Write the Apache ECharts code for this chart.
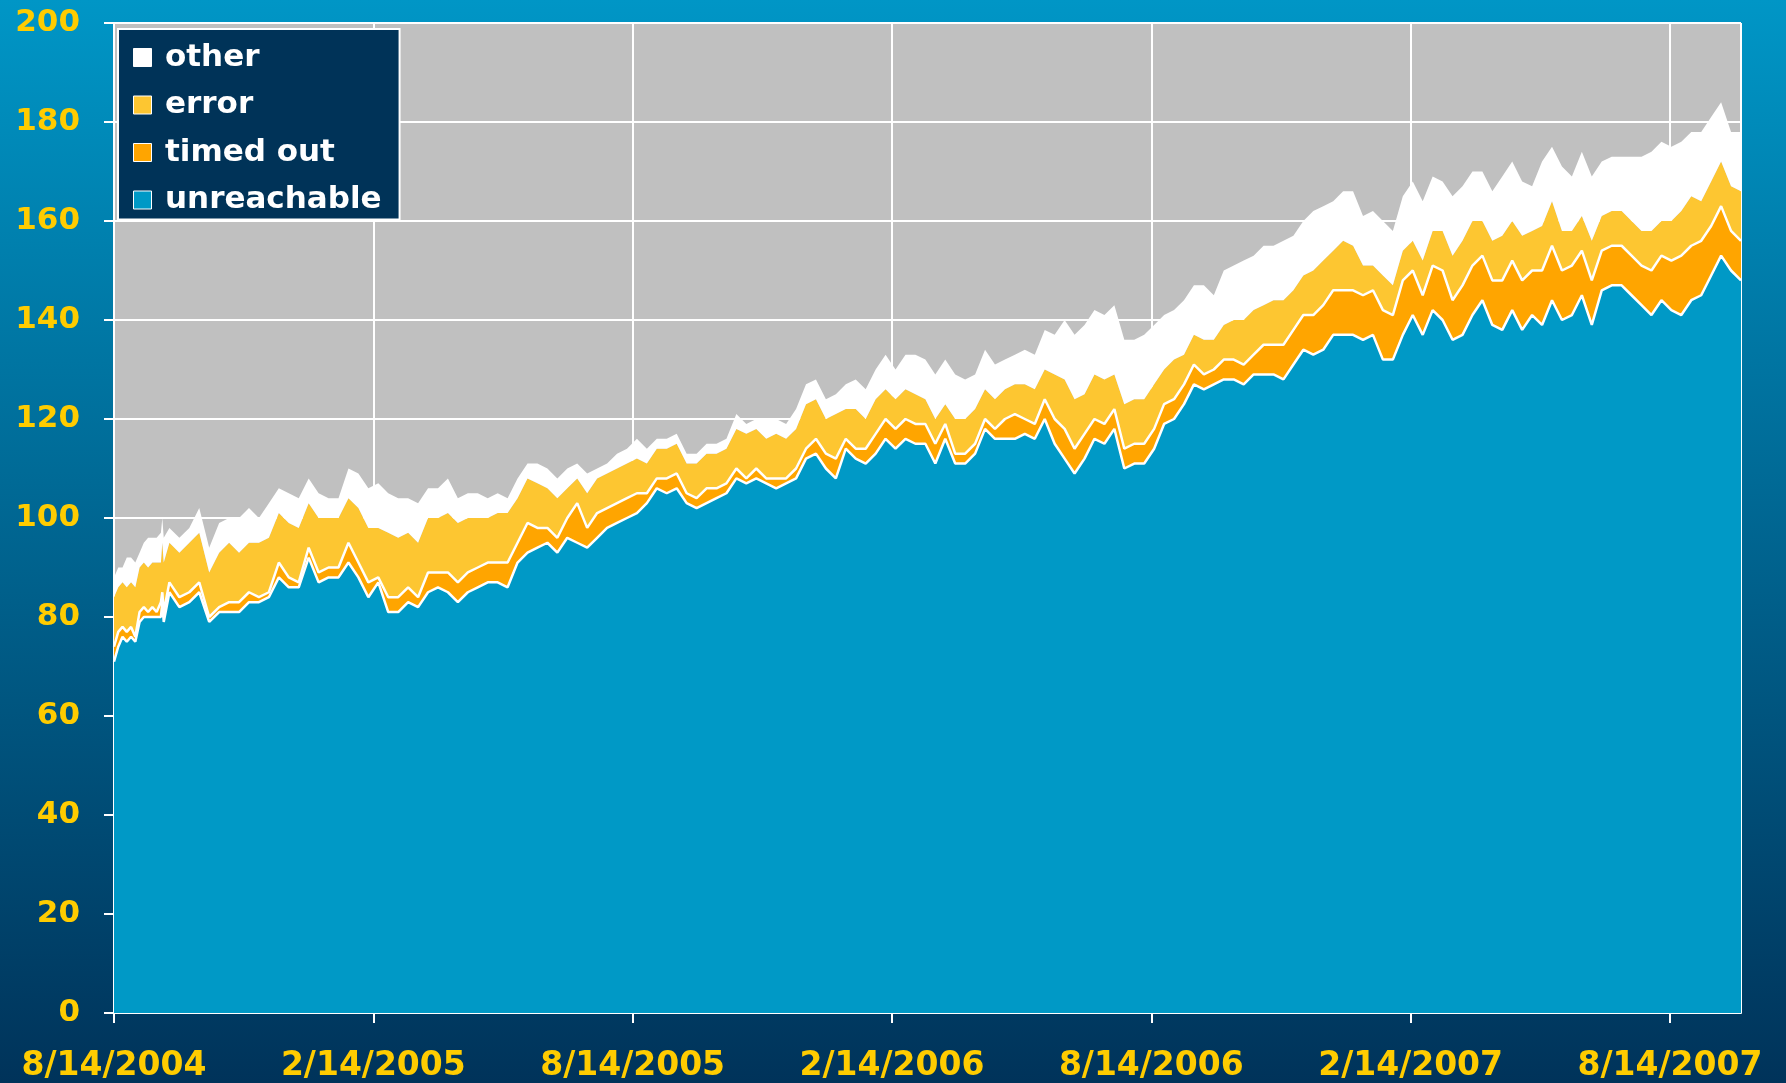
<!DOCTYPE html>
<html>
<head>
<meta charset="utf-8">
<title>unreachable / timed out / error / other</title>
<script src="https://cdn.jsdelivr.net/npm/echarts@6.0.0/dist/echarts.min.js"></script>
<style>
  html, body { margin: 0; padding: 0; background: #00335a; }
  #chart { width: 1786px; height: 1083px; }
</style>
</head>
<body>
<div id="chart"></div>
<script>
// sample dates: a few daily-ish points first, then weekly (wednesdays)
const dates = [
  '2004-08-14', '2004-08-17', '2004-08-20', '2004-08-23', '2004-08-26', '2004-08-29', '2004-09-01',
  '2004-09-04', '2004-09-07', '2004-09-10', '2004-09-13', '2004-09-16', '2004-09-17', '2004-09-18',
  '2004-09-22', '2004-09-29', '2004-10-06', '2004-10-13', '2004-10-20', '2004-10-27', '2004-11-03',
  '2004-11-10', '2004-11-17', '2004-11-24', '2004-12-01', '2004-12-08', '2004-12-15', '2004-12-22', '2004-12-29',
  '2005-01-05', '2005-01-12', '2005-01-19', '2005-01-26', '2005-02-02', '2005-02-09', '2005-02-16', '2005-02-23',
  '2005-03-02', '2005-03-09', '2005-03-16', '2005-03-23', '2005-03-30', '2005-04-06', '2005-04-13', '2005-04-20',
  '2005-04-27', '2005-05-04', '2005-05-11', '2005-05-18', '2005-05-25', '2005-06-01', '2005-06-08', '2005-06-15',
  '2005-06-22', '2005-06-29', '2005-07-06', '2005-07-13', '2005-07-20', '2005-07-27', '2005-08-03', '2005-08-10',
  '2005-08-17', '2005-08-24', '2005-08-31', '2005-09-07', '2005-09-14', '2005-09-21', '2005-09-28', '2005-10-05',
  '2005-10-12', '2005-10-19', '2005-10-26', '2005-11-02', '2005-11-09', '2005-11-16', '2005-11-23', '2005-11-30',
  '2005-12-07', '2005-12-14', '2005-12-21', '2005-12-28',
  '2006-01-04', '2006-01-11', '2006-01-18', '2006-01-25', '2006-02-01', '2006-02-08', '2006-02-15', '2006-02-22',
  '2006-03-01', '2006-03-08', '2006-03-15', '2006-03-22', '2006-03-29', '2006-04-05', '2006-04-12', '2006-04-19',
  '2006-04-26', '2006-05-03', '2006-05-10', '2006-05-17', '2006-05-24', '2006-05-31', '2006-06-07', '2006-06-14',
  '2006-06-21', '2006-06-28', '2006-07-05', '2006-07-12', '2006-07-19', '2006-07-26', '2006-08-02', '2006-08-09',
  '2006-08-16', '2006-08-23', '2006-08-30', '2006-09-06', '2006-09-13', '2006-09-20', '2006-09-27', '2006-10-04',
  '2006-10-11', '2006-10-18', '2006-10-25', '2006-11-01', '2006-11-08', '2006-11-15', '2006-11-22', '2006-11-29',
  '2006-12-06', '2006-12-13', '2006-12-20', '2006-12-27',
  '2007-01-03', '2007-01-10', '2007-01-17', '2007-01-24', '2007-01-31', '2007-02-07', '2007-02-14', '2007-02-21',
  '2007-02-28', '2007-03-07', '2007-03-14', '2007-03-21', '2007-03-28', '2007-04-04', '2007-04-11', '2007-04-18',
  '2007-04-25', '2007-05-02', '2007-05-09', '2007-05-16', '2007-05-23', '2007-05-30', '2007-06-06', '2007-06-13',
  '2007-06-20', '2007-06-27', '2007-07-04', '2007-07-11', '2007-07-18', '2007-07-25', '2007-08-01', '2007-08-08',
  '2007-08-15', '2007-08-22', '2007-08-29', '2007-09-05', '2007-09-12', '2007-09-19', '2007-09-26', '2007-10-03'
];

const unreachable = [
  71, 74, 76, 75, 76, 75, 79, 80, 80, 80, 80, 80, 83, 79,
  85, 82, 83, 85, 79, 81, 81, 81, 83, 83,
  84, 88, 86, 86, 92, 87, 88, 88, 91, 88,
  84, 87, 81, 81, 83, 82, 85, 86, 85, 83,
  85, 86, 87, 87, 86, 91, 93, 94, 95, 93,
  96, 95, 94, 96, 98, 99, 100, 101, 103, 106,
  105, 106, 103, 102, 103, 104, 105, 108, 107, 108,
  107, 106, 107, 108, 112, 113, 110, 108, 114, 112,
  111, 113, 116, 114, 116, 115, 115, 111, 116, 111,
  111, 113, 118, 116, 116, 116, 117, 116, 120, 115,
  112, 109, 112, 116, 115, 118, 110, 111, 111, 114,
  119, 120, 123, 127, 126, 127, 128, 128, 127, 129,
  129, 129, 128, 131, 134, 133, 134, 137, 137, 137,
  136, 137, 132, 132, 137, 141, 137, 142, 140, 136,
  137, 141, 144, 139, 138, 142, 138, 141, 139, 144,
  140, 141, 145, 139, 146, 147, 147, 145, 143, 141,
  144, 142, 141, 144, 145, 149, 153, 150, 148
];

const timedOut = [
  3, 3, 2, 2, 2, 1, 2, 2, 1, 2, 1, 3, 2, 2,
  2, 2, 2, 2, 1, 1, 2, 2, 2, 1,
  1, 3, 2, 1, 2, 2, 2, 2, 4, 3,
  3, 1, 3, 3, 3, 2, 4, 3, 4, 4,
  4, 4, 4, 4, 5, 4, 6, 4, 3, 3,
  4, 8, 4, 5, 4, 4, 4, 4, 2, 2,
  3, 3, 2, 2, 3, 2, 2, 2, 1, 2,
  1, 2, 1, 2, 2, 3, 3, 4, 2, 2,
  3, 4, 4, 4, 4, 4, 4, 4, 3, 2,
  2, 2, 2, 2, 4, 5, 3, 3, 4, 5,
  6, 5, 5, 4, 4, 4, 4, 4, 4, 4,
  4, 4, 4, 4, 3, 3, 4, 4, 4, 4,
  6, 6, 7, 7, 7, 8, 9, 9, 9, 9,
  9, 9, 10, 9, 11, 9, 8, 9, 10, 8,
  10, 10, 9, 9, 10, 10, 10, 9, 11, 11,
  10, 10, 9, 9, 8, 8, 8, 8, 8, 9,
  9, 10, 12, 11, 11, 10, 10, 8, 8
];

const errors = [
  10, 9, 9, 9, 9, 10, 9, 9, 9, 9, 10, 8, 10, 10,
  8, 9, 10, 10, 9, 11, 12, 10, 10, 11,
  11, 10, 11, 11, 9, 11, 10, 10, 9, 11,
  11, 10, 13, 12, 11, 11, 11, 11, 12, 12,
  11, 10, 9, 10, 10, 9, 9, 9, 8, 8,
  6, 5, 7, 7, 7, 7, 7, 7, 6, 6,
  6, 6, 6, 7, 7, 7, 7, 8, 9, 8,
  8, 9, 8, 8, 9, 8, 7, 9, 6, 8,
  6, 7, 6, 6, 6, 6, 5, 5, 4, 7,
  7, 7, 6, 6, 6, 6, 7, 7, 6, 9,
  10, 10, 8, 9, 9, 7, 9, 9, 9, 9,
  7, 8, 6, 6, 7, 6, 7, 8, 9, 9,
  8, 9, 9, 8, 8, 9, 9, 8, 10, 9,
  6, 5, 7, 6, 6, 6, 7, 7, 8, 9,
  9, 9, 7, 8, 9, 8, 9, 8, 9, 9,
  8, 7, 7, 8, 7, 7, 7, 7, 7, 8,
  7, 8, 9, 10, 8, 9, 9, 9, 10
];

const other = [
  4, 4, 3, 6, 5, 5, 3, 4, 6, 5, 5, 6, 5, 5,
  3, 3, 3, 5, 5, 6, 5, 7, 7, 5,
  7, 5, 6, 6, 5, 5, 4, 4, 6, 7,
  8, 9, 8, 8, 7, 8, 6, 6, 7, 5,
  5, 5, 4, 4, 3, 4, 3, 4, 4, 4,
  4, 3, 4, 2, 2, 3, 3, 4, 3, 2,
  2, 2, 2, 2, 2, 2, 2, 3, 2, 2,
  4, 3, 3, 4, 4, 4, 4, 4, 5, 6,
  6, 6, 7, 6, 7, 8, 8, 9, 9, 9,
  8, 7, 8, 7, 6, 6, 7, 7, 8, 8,
  12, 13, 14, 13, 13, 14, 13, 12, 13, 12,
  11, 10, 11, 10, 11, 9, 11, 11, 12, 11,
  12, 11, 12, 11, 11, 12, 11, 10, 10, 11,
  10, 11, 11, 11, 11, 12, 12, 11, 10, 12,
  11, 10, 10, 10, 12, 12, 11, 9, 13, 11,
  13, 11, 13, 13, 11, 11, 11, 13, 15, 16,
  16, 15, 14, 13, 14, 13, 12, 11, 12
];

// x axis labels, one every half year starting at the first sample
const tickLabels = ['8/14/2004', '2/14/2005', '8/14/2005', '2/14/2006', '8/14/2006', '2/14/2007', '8/14/2007'];
const halfYear = 182.5; // days

const day0 = Date.UTC(2004, 7, 14);
function dayOf(s) {
  const p = s.split('-');
  return (Date.UTC(+p[0], +p[1] - 1, +p[2]) - day0) / 86400000;
}
const xs = dates.map(dayOf);
// value first so the stack runs on y, not on the day number
function pairs(vals) {
  return vals.map((v, i) => [v, xs[i]]);
}

const labelFont = {
  color: '#ffcc00',
  fontWeight: 'bold',
  fontFamily: 'DejaVu Sans'
};

function areaSeries(name, vals, color, lineColor, lineWidth, z) {
  return {
    name: name,
    type: 'line',
    stack: 'all',
    data: pairs(vals),
    encode: { x: 1, y: 0 },
    symbol: 'none',
    color: color,
    itemStyle: { color: color },
    lineStyle: { color: lineColor, width: lineWidth },
    areaStyle: { color: color, opacity: 1 },
    emphasis: { disabled: true },
    z: z
  };
}

const chart = echarts.init(document.getElementById('chart'));
chart.setOption({
  animation: false,
  backgroundColor: new echarts.graphic.LinearGradient(0, 0, 0, 1, [
    { offset: 0, color: '#0096c6' },
    { offset: 1, color: '#00335a' }
  ]),
  grid: {
    left: 114,
    right: 45,
    top: 23,
    bottom: 67,
    show: true,
    backgroundColor: '#c0c0c0',
    borderWidth: 0
  },
  legend: {
    orient: 'vertical',
    left: 118,
    top: 29,
    z: 10,
    padding: [13, 18, 4, 15],
    backgroundColor: '#003358',
    borderColor: '#ffffff',
    borderWidth: 2,
    itemWidth: 35,
    itemHeight: 18,
    itemGap: 16.5,
    icon: 'path://M0 0H10V10H0Z',
    itemStyle: { borderColor: '#ffffff', borderWidth: 1 },
    textStyle: {
      color: '#ffffff',
      fontSize: 31,
      fontWeight: 'bold',
      fontFamily: 'DejaVu Sans',
      lineHeight: 30
    },
    data: ['other', 'error', 'timed out', 'unreachable']
  },
  xAxis: {
    type: 'value',
    min: 0,
    max: xs[xs.length - 1],
    interval: halfYear,
    axisLine: { lineStyle: { color: '#ffffff', width: 2 } },
    axisTick: { length: 10, lineStyle: { color: '#ffffff', width: 2 } },
    splitLine: { lineStyle: { color: '#ffffff', width: 2 } },
    axisLabel: Object.assign({
      fontSize: 33,
      margin: 37,
      showMaxLabel: false,
      formatter: function (v) {
        const i = Math.round(v / halfYear);
        return Math.abs(i * halfYear - v) < 0.01 ? (tickLabels[i] || '') : '';
      }
    }, labelFont)
  },
  yAxis: {
    type: 'value',
    min: 0,
    max: 200,
    interval: 20,
    axisLine: { show: true, lineStyle: { color: '#ffffff', width: 2 } },
    axisTick: { show: true, length: 10, lineStyle: { color: '#ffffff', width: 2 } },
    splitLine: { lineStyle: { color: '#ffffff', width: 2 } },
    axisLabel: Object.assign({ fontSize: 31, margin: 34 }, labelFont)
  },
  series: [
    areaSeries('unreachable', unreachable, '#0099c6', '#ffffff', 2.5, 3.5),
    areaSeries('timed out', timedOut, '#ffa500', '#ffffff', 2.5, 3),
    areaSeries('error', errors, '#fdc631', '#fdc631', 0, 2),
    areaSeries('other', other, '#ffffff', '#ffffff', 0, 2)
  ]
});
</script>
</body>
</html>
